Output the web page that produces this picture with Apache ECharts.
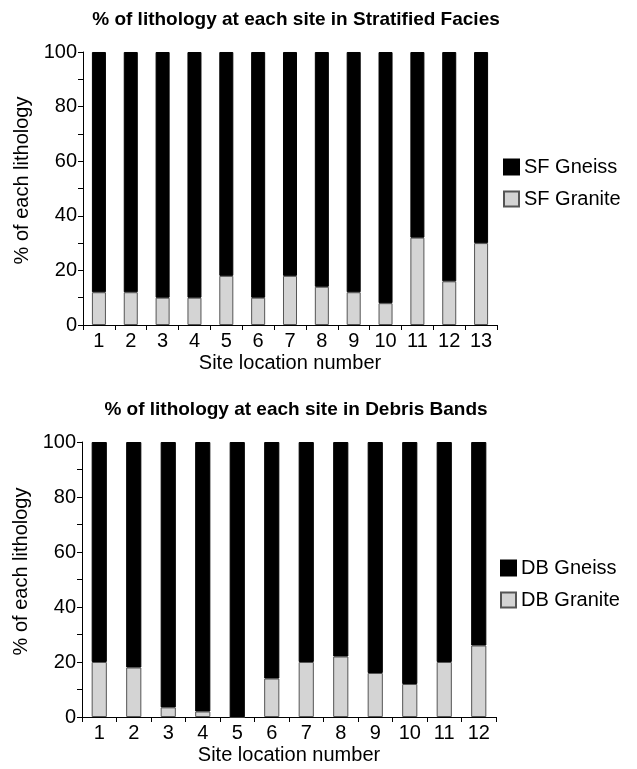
<!DOCTYPE html>
<html>
<head>
<meta charset="utf-8">
<script src="https://cdn.jsdelivr.net/npm/echarts@6/dist/echarts.min.js"></script>
<style>
  html, body { margin: 0; padding: 0; background: #fff; }
  #main { width: 637px; height: 769px; }
</style>
</head>
<body>
<div id="main"></div>
<script>
// site numbers for each panel
var sfSites = ['1','2','3','4','5','6','7','8','9','10','11','12','13'];
var dbSites = ['1','2','3','4','5','6','7','8','9','10','11','12'];

// Stratified Facies (% per site)
var sfGranite = [12, 12, 10, 10, 18, 10, 18, 14, 12, 8, 32, 16, 30];
var sfGneiss  = [88, 88, 90, 90, 82, 90, 82, 86, 88, 92, 68, 84, 70];

// Debris Bands (% per site)
var dbGranite = [20, 18, 3.5, 2, 0, 14, 20, 22, 16, 12, 20, 26];
var dbGneiss  = [80, 82, 96.5, 98, 100, 86, 80, 78, 84, 88, 80, 74];

var FONT = 'Liberation Sans, Arial, sans-serif';
var GRANITE = '#d4d4d4';

var chart = echarts.init(document.getElementById('main'));

function xAxisFor(idx, cats){
	return {
		type: 'category',
		gridIndex: idx,
		data: cats,
		name: 'Site location number',
		nameLocation: 'middle',
		nameGap: 28,
		nameTextStyle: { color: '#000', fontSize: 20, fontFamily: FONT, verticalAlign: 'top' },
		axisLine: { lineStyle: { color: '#000', width: 1 } },
		axisTick: { show: true, length: 5, lineStyle: { color: '#000' } },
		axisLabel: { color: '#000', fontSize: 20, fontFamily: FONT, margin: 6, interval: 0 },
		splitLine: { show: false }
	};
}

function yAxisFor(idx){
	return {
		type: 'value',
		gridIndex: idx,
		min: 0,
		max: 100,
		interval: 20,
		name: '% of each lithology',
		nameLocation: 'middle',
		nameGap: 49,
		// shift the rotated name a little upwards, as in the original
		nameTextStyle: { color: '#000', fontSize: 20, fontFamily: FONT, padding: [0, 0, 0, 16] },
		axisLine: { show: true, lineStyle: { color: '#000', width: 1 } },
		axisTick: { show: true, length: 5, lineStyle: { color: '#000' } },
		minorTick: { show: true, splitNumber: 2, length: 5, lineStyle: { color: '#000' } },
		axisLabel: { color: '#000', fontSize: 20, fontFamily: FONT, margin: 6 },
		splitLine: { show: false },
		minorSplitLine: { show: false }
	};
}

var option = {
	backgroundColor: '#fff',
	animation: false,
	title: [
		{
			text: '% of lithology at each site in Stratified Facies',
			left: 291, top: 5, textAlign: 'center',
			textStyle: { fontSize: 19, fontWeight: 'bold', color: '#000', fontFamily: FONT }
		},
		{
			text: '% of lithology at each site in Debris Bands',
			left: 291, top: 395, textAlign: 'center',
			textStyle: { fontSize: 19, fontWeight: 'bold', color: '#000', fontFamily: FONT }
		}
	],
	legend: [
		{
			data: ['SF Gneiss', 'SF Granite'],
			orient: 'vertical',
			left: 498, top: 152,
			itemWidth: 15, itemHeight: 15, itemGap: 12,
			icon: 'rect',
			textStyle: { color: '#000', fontSize: 20, fontFamily: FONT }
		},
		{
			data: ['DB Gneiss', 'DB Granite'],
			orient: 'vertical',
			left: 495, top: 553,
			itemWidth: 15, itemHeight: 15, itemGap: 12,
			icon: 'rect',
			textStyle: { color: '#000', fontSize: 20, fontFamily: FONT }
		}
	],
	grid: [
		{ left: 83, top: 52, width: 414, height: 273 },
		{ left: 82, top: 442, width: 414, height: 275 }
	],
	xAxis: [ xAxisFor(0, sfSites), xAxisFor(1, dbSites) ],
	yAxis: [ yAxisFor(0), yAxisFor(1) ],
	series: [
		{
			name: 'SF Granite', type: 'bar', stack: 'sf', xAxisIndex: 0, yAxisIndex: 0,
			barWidth: '44%', data: sfGranite,
			itemStyle: { color: GRANITE, borderColor: '#555', borderWidth: 1 }
		},
		{
			name: 'SF Gneiss', type: 'bar', stack: 'sf', xAxisIndex: 0, yAxisIndex: 0,
			barWidth: '44%', data: sfGneiss,
			itemStyle: { color: '#000', borderColor: '#000', borderWidth: 1 }
		},
		{
			name: 'DB Granite', type: 'bar', stack: 'db', xAxisIndex: 1, yAxisIndex: 1,
			barWidth: '44%', data: dbGranite,
			itemStyle: { color: GRANITE, borderColor: '#555', borderWidth: 1 }
		},
		{
			name: 'DB Gneiss', type: 'bar', stack: 'db', xAxisIndex: 1, yAxisIndex: 1,
			barWidth: '44%', data: dbGneiss,
			itemStyle: { color: '#000', borderColor: '#000', borderWidth: 1 }
		}
	]
};

chart.setOption(option);
</script>
</body>
</html>
